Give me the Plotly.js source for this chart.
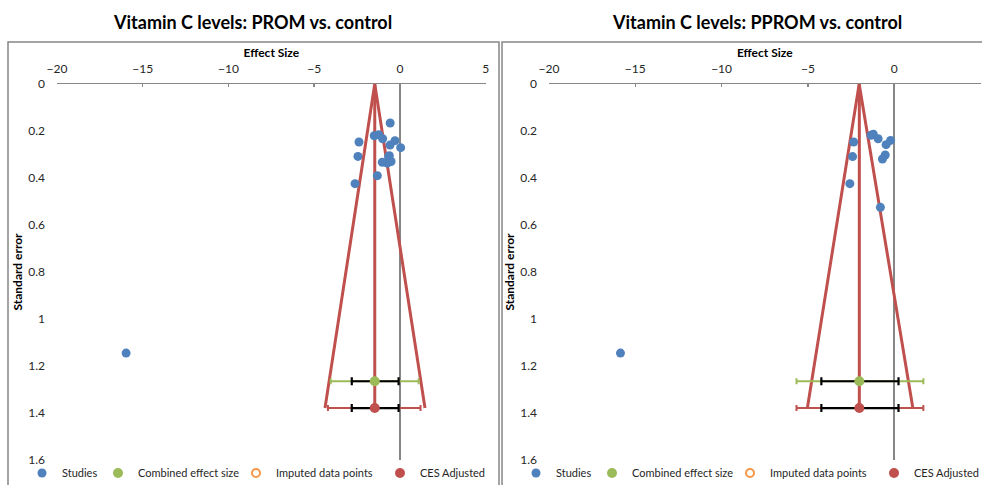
<!DOCTYPE html>
<html>
<head>
<meta charset="utf-8">
<script src="https://cdn.plot.ly/plotly-3.0.1.min.js"></script>
<style>html,body{margin:0;padding:0;background:#fff;}#chart{width:982px;height:485px;}</style>
</head>
<body>
<div id="chart"></div>
<script>
// ---- Data ----
const panelTitles = ["Vitamin C levels: PROM vs. control", "Vitamin C levels: PPROM vs. control"];
const legendNames = ["Studies", "Combined effect size", "Imputed data points", "CES Adjusted"];
const xTickVals = [-20, -15, -10, -5, 0, 5];

// PROM vs control: individual studies
const promStudyES = [-0.57, -2.39, -1.50, -1.24, -1.01, -0.58, -0.29, 0.04, -2.45, -0.62, -1.03, -0.66, -0.52, -0.74, -1.32, -2.62, -15.97];
const promStudySE = [0.166, 0.247, 0.220, 0.216, 0.233, 0.260, 0.241, 0.271, 0.308, 0.305, 0.333, 0.309, 0.330, 0.337, 0.390, 0.424, 1.145];
// PROM combined effect size / adjusted
const promCombinedES = [-1.47];
const promCombinedSE = [1.265];
const promCombinedCI = [-2.81, -0.08];
const promCombinedPI = [-4.04, 1.09];
const promAdjustedES = [-1.47];
const promAdjustedSE = [1.379];
const promAdjustedCI = [-2.81, -0.08];
const promAdjustedPI = [-4.20, 1.20];
const promFunnelES = [-4.37, -1.47, 1.46];
const promFunnelSE = [1.379, 0, 1.379];

// PPROM vs control: individual studies
const ppromStudyES = [-2.35, -1.34, -1.21, -0.93, -0.47, -0.21, -2.41, -0.52, -0.68, -2.57, -0.80, -15.86];
const ppromStudySE = [0.247, 0.218, 0.214, 0.233, 0.258, 0.240, 0.309, 0.302, 0.319, 0.424, 0.525, 1.145];
const ppromCombinedES = [-2.02];
const ppromCombinedSE = [1.265];
const ppromCombinedCI = [-4.22, 0.25];
const ppromCombinedPI = [-5.66, 1.69];
const ppromAdjustedES = [-2.02];
const ppromAdjustedSE = [1.379];
const ppromAdjustedCI = [-4.22, 0.25];
const ppromAdjustedPI = [-5.66, 1.69];
const ppromFunnelES = [-5.03, -2.03, 1.08];
const ppromFunnelSE = [1.379, 0, 1.379];

// ---- Styling ----
const FONT = "Lato, 'Open Sans', sans-serif";
const BLUE = "#4F81BD", GREEN = "#9BBB59", ORANGE = "#F79646", RED = "#C0504D";
const AXIS = "#868686";
const LEGEND_W = [31, 93, 99, 70];

function errBar(center, range, color, thick, width) {
  return {type: 'data', symmetric: false,
    array: [range[1] - center[0]], arrayminus: [center[0] - range[0]],
    color: color, thickness: thick, width: width};
}

function panelTraces(xa, ya, leg, studyES, studySE, cES, cSE, cCI, cPI, aES, aSE, aCI, aPI, fES, fSE) {
  return [
    // funnel
    {x: fES, y: fSE, xaxis: xa, yaxis: ya, mode: 'lines', line: {color: RED, width: 3}, showlegend: false, hoverinfo: 'skip'},
    {x: [aES[0], aES[0]], y: [0, aSE[0]], xaxis: xa, yaxis: ya, mode: 'lines', line: {color: RED, width: 3}, showlegend: false, hoverinfo: 'skip'},
    // studies
    {x: studyES, y: studySE, xaxis: xa, yaxis: ya, mode: 'markers', name: legendNames[0], legend: leg, legendrank: 1,
     legendwidth: LEGEND_W[0], marker: {color: BLUE, size: 9}},
    // combined: prediction interval (green)
    {x: cES, y: cSE, xaxis: xa, yaxis: ya, mode: 'markers', showlegend: false, marker: {color: GREEN, size: 1, opacity: 0},
     error_x: errBar(cES, cPI, GREEN, 2, 3)},
    // combined: CI (black) + marker
    {x: cES, y: cSE, xaxis: xa, yaxis: ya, mode: 'markers', name: legendNames[1], legend: leg, legendrank: 2,
     legendwidth: LEGEND_W[1], marker: {color: GREEN, size: 10}, error_x: errBar(cES, cCI, '#000000', 2.2, 4)},
    // imputed (no imputed points in this analysis)
    {x: [null], y: [null], xaxis: xa, yaxis: ya, mode: 'markers', name: legendNames[2], legend: leg, legendrank: 3,
     legendwidth: LEGEND_W[2], showlegend: true, marker: {color: ORANGE, size: 8, symbol: 'circle-open', line: {width: 2, color: ORANGE}}},
    // adjusted: PI (red)
    {x: aES, y: aSE, xaxis: xa, yaxis: ya, mode: 'markers', showlegend: false, marker: {color: RED, size: 1, opacity: 0},
     error_x: errBar(aES, aPI, RED, 2, 3)},
    {x: aES, y: aSE, xaxis: xa, yaxis: ya, mode: 'markers', name: legendNames[3], legend: leg, legendrank: 4,
     legendwidth: LEGEND_W[3], marker: {color: RED, size: 10}, error_x: errBar(aES, aCI, '#000000', 2.2, 4)}
  ];
}

const data = [].concat(
  panelTraces('x', 'y', 'legend', promStudyES, promStudySE, promCombinedES, promCombinedSE, promCombinedCI, promCombinedPI,
              promAdjustedES, promAdjustedSE, promAdjustedCI, promAdjustedPI, promFunnelES, promFunnelSE),
  panelTraces('x2', 'y2', 'legend2', ppromStudyES, ppromStudySE, ppromCombinedES, ppromCombinedSE, ppromCombinedCI, ppromCombinedPI,
              ppromAdjustedES, ppromAdjustedSE, ppromAdjustedCI, ppromAdjustedPI, ppromFunnelES, ppromFunnelSE)
);

const W = 982, H = 485;
function px(v) { return v / W; }
function py(v) { return 1 - v / H; }

function xAxis(domain, anchor) {
  return {domain: domain, anchor: anchor, side: 'top', range: [-20, 5], tickvals: xTickVals,
    showline: true, linecolor: AXIS, linewidth: 1.5, ticks: 'inside', ticklen: 3, tickcolor: AXIS, tickwidth: 1.5,
    showgrid: false, zeroline: true, zerolinecolor: AXIS, zerolinewidth: 1.5,
    tickfont: {family: FONT, size: 12, color: '#262626'}, ticklabelstandoff: 5,
    title: {text: 'Effect Size', font: {family: FONT, size: 12, color: '#000', weight: 'bold'}, standoff: 0},
    automargin: false, fixedrange: true};
}
function yAxis(anchor) {
  return {domain: [py(460), py(84)], anchor: anchor, range: [1.6, 0], tick0: 0, dtick: 0.2,
    showline: false, zeroline: false, showgrid: false, ticks: '',
    tickfont: {family: FONT, size: 12, color: '#262626'}, ticklabelstandoff: 11,
    title: {text: 'Standard error', font: {family: FONT, size: 12, color: '#000', weight: 'bold'}, standoff: 3},
    automargin: false, fixedrange: true};
}

const legendCommon = {orientation: 'h', yanchor: 'middle', y: py(473), xanchor: 'left',
  font: {family: FONT, size: 11, color: '#262626'}, bgcolor: 'rgba(0,0,0,0)', itemwidth: 30, tracegroupgap: 0};

const layout = {
  width: W, height: H, margin: {l: 0, r: 0, t: 0, b: 0, autoexpand: false},
  paper_bgcolor: '#fff', plot_bgcolor: 'rgba(0,0,0,0)',
  xaxis: xAxis([px(57), px(485.7)], 'y'),
  yaxis: yAxis('x'),
  xaxis2: xAxis([px(549), px(980.5)], 'y2'),
  yaxis2: yAxis('x2'),
  legend: Object.assign({}, legendCommon, {x: px(22)}),
  legend2: Object.assign({}, legendCommon, {x: px(516)}),
  shapes: [
    {type: 'rect', xref: 'paper', yref: 'paper', x0: px(8), x1: px(499), y0: -0.2, y1: py(42), line: {color: AXIS, width: 1.5}, layer: 'below'},
    {type: 'rect', xref: 'paper', yref: 'paper', x0: px(502), x1: 1.2, y0: -0.2, y1: py(42), line: {color: AXIS, width: 1.5}, layer: 'below'}
  ],
  annotations: [
    {text: panelTitles[0], xref: 'paper', yref: 'paper', x: px(253), y: py(22), xanchor: 'center', yanchor: 'middle', showarrow: false,
     font: {family: FONT, size: 18, color: '#000', weight: 'bold'}},
    {text: panelTitles[1], xref: 'paper', yref: 'paper', x: px(757), y: py(22), xanchor: 'center', yanchor: 'middle', showarrow: false,
     font: {family: FONT, size: 18, color: '#000', weight: 'bold'}}
  ],
  showlegend: true, hovermode: false
};

Plotly.newPlot('chart', data, layout, {staticPlot: true, displayModeBar: false});
</script>
</body>
</html>
